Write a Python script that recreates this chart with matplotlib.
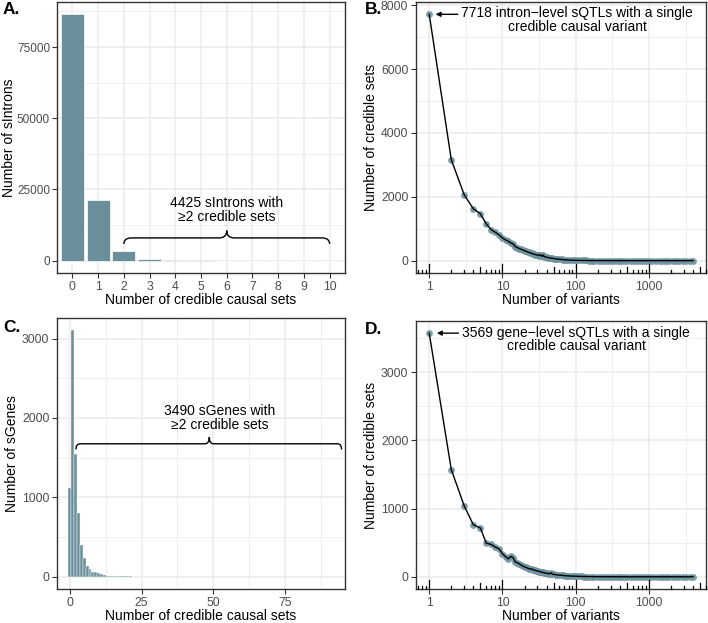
import matplotlib
matplotlib.use("Agg")
import matplotlib.pyplot as plt
from matplotlib.path import Path
from matplotlib.patches import PathPatch

plt.rcParams['font.family'] = ['Liberation Sans', 'DejaVu Sans']

# ---- data -------------------------------------------------------------
# A: number of credible causal sets per sIntron
a_sets = [0, 1, 2, 3, 4, 5, 6, 7, 8, 9, 10]
a_counts = [86500, 21300, 3300, 720, 250, 90, 35, 15, 8, 4, 3]

# C: number of credible causal sets per sGene
c_sets = [0, 1, 2, 3, 4, 5, 6, 7, 8, 9, 10, 11, 12, 13, 14, 15, 16, 17, 18,
          19, 20, 21, 22, 24, 27, 30, 45, 80]
c_counts = [1120, 3105, 1540, 800, 400, 235, 140, 95, 62, 58, 42, 30, 20, 14,
            10, 9, 7, 6, 5, 4, 4, 3, 2, 1, 1, 1, 1, 1]

# B / D: number of credible sets by number of variants in the set
n_variants = [1, 2, 3, 4, 5, 6, 7, 8, 9, 10, 11, 12, 13, 14, 15, 16, 17, 18, 19, 20,
              21, 22, 23, 24, 25, 26, 27, 28, 29, 30, 31, 32, 33, 34, 35, 36, 37, 38, 39, 40,
              42, 44, 46, 48, 50, 53, 56, 60, 64, 68, 72, 77, 82, 88, 94,
              100, 110, 120, 130, 140, 150, 165, 180, 200, 220, 240, 265, 290,
              320, 350, 385, 420, 460, 500, 560, 620, 680, 750, 830, 920, 1000, 1100,
              1250, 1400, 1550, 1700, 1900, 2100, 2350, 2600, 2900, 3200, 3600, 4000]
b_counts = [7718, 3166, 2066, 1625, 1468, 1154, 975, 890, 807, 713,
            650, 608, 556, 524, 440, 410, 380, 355, 335, 314,
            295, 275, 258, 242, 228, 215, 203, 192, 185, 178,
            170, 160, 190, 150, 142, 180, 130, 122, 115, 108,
            98, 90, 82, 75, 68, 60, 52, 45, 38, 32, 28, 24, 20, 17, 14,
            12, 10, 8, 7, 6, 5, 5, 4, 4, 3, 3, 3, 2,
            2, 2, 2, 2, 1, 1, 1, 1, 1, 1, 1, 1, 1, 1,
            1, 1, 1, 1, 1, 1, 1, 1, 1, 1, 1, 1]
d_counts = [3569, 1572, 1040, 763, 715, 493, 475, 435, 410, 338,
            295, 265, 300, 280, 217, 205, 190, 172, 158, 145,
            138, 128, 120, 112, 118, 105, 100, 96, 90, 86,
            82, 78, 74, 70, 67, 64, 60, 58, 55, 53,
            48, 45, 60, 40, 36, 32, 28, 25, 22, 20, 17, 15, 13, 11, 10,
            9, 7, 6, 5, 5, 4, 4, 3, 3, 2, 2, 2, 2,
            2, 2, 1, 1, 1, 1, 1, 1, 1, 1, 1, 1, 1, 1,
            1, 1, 1, 1, 1, 1, 1, 1, 1, 1, 1, 1]

BAR = '#6B8F9A'
PT = '#6F949F'
GRID = '#EBEBEB'
W, H = 708.0, 623.0


def panel(x0, y0, x1, y1):
    "axes from pixel box (top-left origin)"
    ax = fig.add_axes([x0 / W, 1 - y1 / H, (x1 - x0) / W, (y1 - y0) / H])
    for s in ax.spines.values():
        s.set_color('#333333')
        s.set_linewidth(1.0)
    ax.set_axisbelow(True)
    ax.grid(True, which='major', color=GRID, linewidth=1.1)
    ax.grid(True, which='minor', color=GRID, linewidth=0.55)
    ax.tick_params(which='major', direction='out', length=3.5, width=0.8,
                   color='#333333', labelcolor='#4D4D4D', labelsize=8.8, pad=2)
    ax.tick_params(which='minor', length=0)
    return ax


def brace(ax, x0, x1, xm, y_tip, y_line, y_peak, r):
    verts = [(x0, y_tip), (x0, y_line), (x0 + r, y_line),
             (xm - r, y_line), (xm, y_line), (xm, y_peak),
             (xm, y_line), (xm + r, y_line),
             (x1 - r, y_line), (x1, y_line), (x1, y_tip)]
    codes = [Path.MOVETO, Path.CURVE3, Path.CURVE3,
             Path.LINETO, Path.CURVE3, Path.CURVE3,
             Path.CURVE3, Path.CURVE3,
             Path.LINETO, Path.CURVE3, Path.CURVE3]
    ax.add_patch(PathPatch(Path(verts, codes), fill=False, lw=1.0, color='black'))


def logticks(ax, lo, hi):
    "annotation_logticks style marks along the bottom"
    height = ax.get_position().height * H
    for dec in [0.1, 1, 10, 100, 1000]:
        for m in range(1, 10):
            v = dec * m
            if v < lo or v > hi:
                continue
            L = 9.0 if m == 1 else (6.0 if m == 5 else 3.0)
            ax.plot([v, v], [0, L / height], transform=ax.get_xaxis_transform(),
                    color='black', lw=0.9, clip_on=False, zorder=5)


fig = plt.figure(figsize=(7.08, 6.23), dpi=100)

# ---- A ---------------------------------------------------------------
ax = panel(57, 2, 345, 273)
ax.bar(a_sets, a_counts, width=0.9, color=BAR, edgecolor='white', linewidth=0.5)
ax.set_xlim(-0.6, 10.6)
ax.set_ylim(-4325, 90825)
ax.set_xticks(a_sets)
ax.set_yticks([0, 25000, 50000, 75000])
ax.set_yticks([12500, 37500, 62500, 87500], minor=True)
ax.tick_params(axis='y', labelsize=8.5, pad=1.5)
ax.set_xlabel('Number of credible causal sets', fontsize=10, labelpad=0)
ax.set_ylabel('Number of sIntrons', fontsize=10, labelpad=1)
brace(ax, 2, 10, 6, 5880, 7990, 10560, 0.3)
ax.text(6, 17800, '4425 sIntrons with\n\u22652 credible sets', ha='center', va='center',
        fontsize=10, linespacing=1.0)

# ---- B ---------------------------------------------------------------
ax = panel(416, 2, 706, 273)
ax.set_xscale('log')
ax.scatter(n_variants, b_counts, s=24, color=PT, alpha=0.9, linewidths=0, zorder=3)
ax.plot(n_variants, b_counts, color='black', lw=1.0, zorder=4)
ax.set_xlim(0.66, 6000)
ax.set_ylim(-386, 8104)
ax.set_xticks([1, 10, 100, 1000])
ax.set_xticklabels(['1', '10', '100', '1000'])
ax.set_xticks([10 ** 0.5, 10 ** 1.5, 10 ** 2.5, 10 ** 3.5], minor=True)
ax.set_xticklabels([], minor=True)
ax.set_yticks([0, 2000, 4000, 6000, 8000])
ax.set_yticks([1000, 3000, 5000, 7000], minor=True)
ax.set_xlabel('Number of variants', fontsize=10, labelpad=0)
ax.set_ylabel('Number of credible sets', fontsize=10, labelpad=2)
logticks(ax, 0.66, 6000)
ax.annotate('', xy=(1.22, 7718), xytext=(2.45, 7718),
            arrowprops=dict(arrowstyle='-|>', color='black', lw=1.0,
                            mutation_scale=7, shrinkA=0, shrinkB=0))
ax.text(105, 7535, '7718 intron\u2212level sQTLs with a single\ncredible causal variant',
        ha='center', va='center', fontsize=10, linespacing=0.95)

# ---- C ---------------------------------------------------------------
ax = panel(57, 318, 345, 589)
ax.bar(c_sets, c_counts, width=1.0, color=BAR, edgecolor='white', linewidth=0.3)
ax.set_xlim(-4.5, 95.9)
ax.set_ylim(-155, 3260)
ax.set_xticks([0, 25, 50, 75])
ax.set_xticks([12.5, 37.5, 62.5, 87.5], minor=True)
ax.set_yticks([0, 1000, 2000, 3000])
ax.set_yticks([500, 1500, 2500], minor=True)
ax.set_xlabel('Number of credible causal sets', fontsize=10, labelpad=0)
ax.set_ylabel('Number of sGenes', fontsize=10, labelpad=2)
brace(ax, 2.1, 94.7, 48.6, 1603, 1675, 1760, 1.5)
ax.text(52.2, 1994, '3490 sGenes with\n\u22652 credible sets', ha='center', va='center',
        fontsize=10, linespacing=1.0)

# ---- D ---------------------------------------------------------------
ax = panel(416, 321, 706, 589)
ax.set_xscale('log')
ax.scatter(n_variants, d_counts, s=24, color=PT, alpha=0.9, linewidths=0, zorder=3)
ax.plot(n_variants, d_counts, color='black', lw=1.0, zorder=4)
ax.set_xlim(0.66, 6000)
ax.set_ylim(-178, 3747)
ax.set_xticks([1, 10, 100, 1000])
ax.set_xticklabels(['1', '10', '100', '1000'])
ax.set_xticks([10 ** 0.5, 10 ** 1.5, 10 ** 2.5, 10 ** 3.5], minor=True)
ax.set_xticklabels([], minor=True)
ax.set_yticks([0, 1000, 2000, 3000])
ax.set_yticks([500, 1500, 2500, 3500], minor=True)
ax.set_xlabel('Number of variants', fontsize=10, labelpad=0)
ax.set_ylabel('Number of credible sets', fontsize=10, labelpad=2)
logticks(ax, 0.66, 6000)
ax.annotate('', xy=(1.27, 3569), xytext=(2.5, 3569),
            arrowprops=dict(arrowstyle='-|>', color='black', lw=1.0,
                            mutation_scale=7, shrinkA=0, shrinkB=0))
ax.text(102, 3473, '3569 gene\u2212level sQTLs with a single\ncredible causal variant',
        ha='center', va='center', fontsize=10, linespacing=0.95)

# panel letters
for lab, px, py in [('A.', 3, 10), ('B.', 365, 10), ('C.', 3, 327), ('D.', 365, 330)]:
    fig.text(px / W, 1 - py / H, lab, fontsize=12.5, fontweight='bold', ha='left', va='center')

fig.savefig('out.png', dpi=100)
